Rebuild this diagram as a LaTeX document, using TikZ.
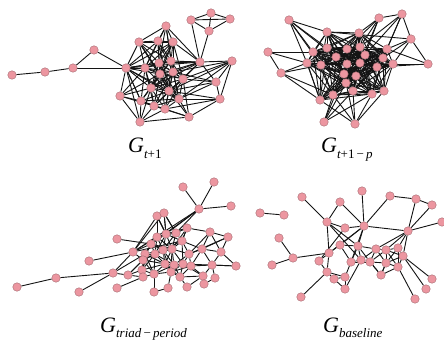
\documentclass[tikz,border=0pt]{standalone}
\usepackage{fontspec}
\setmainfont{Liberation Serif}
\pgfdeclarelayer{bg}
\pgfsetlayers{bg,main}
\definecolor{vfill}{RGB}{236,150,160}
\definecolor{vline}{RGB}{165,105,112}
\definecolor{ecol}{RGB}{20,20,20}
\tikzset{
  v/.style={circle,fill=vfill,draw=vline,line width=0.4pt,minimum size=8.5pt,inner sep=0pt},
  edge/.style={draw=ecol,line width=0.9pt},
  glabel/.style={anchor=base west,inner sep=0pt}
}
\newcommand\nearlinks[2]{%
  \foreach \na/\xa/\ya [count=\i] in #1 {%
    \foreach \nb/\xb/\yb [count=\j] in #1 {%
      \ifnum\i<\j
        \pgfmathsetmacro\dd{veclen(\xa-\xb,\ya-\yb)}%
        \ifdim\dd pt<#2pt \draw[edge] (\na) -- (\nb); \fi
      \fi}}}
\newcommand\putnodes[1]{\foreach \n/\x/\y in #1 {\node[v] (\n) at (\x,\y) {};}}
\newcommand\links[1]{\foreach \a/\b in {#1} {\draw[edge] (\a) -- (\b);}}
\newcommand\sub[1]{\raisebox{-5.5pt}{\fontsize{13}{14}\selectfont #1}}

\def\QoneAll{p1/12/75, p2/45/72, p3/73/68, p4/94/50, p5/126/68, p6/166/26, p7/191/20, p8/211/13, p9/230/19, p10/209/31, p11/139/42, p12/158/41, p13/173/42, p14/145/68, p15/159/63, p16/171/61, p17/200/62, p18/232/61, p19/160/74, p20/173/72, p21/183/79, p22/216/82, p23/151/88, p24/169/91, p25/120/96, p26/141/101, p27/154/106, p28/165/109, p29/179/99, p30/220/99, p31/140/122, p32/189/117}
\def\QoneCore{p5/126/68, p6/166/26, p11/139/42, p12/158/41, p13/173/42, p14/145/68, p15/159/63, p16/171/61, p17/200/62, p18/232/61, p19/160/74, p20/173/72, p21/183/79, p22/216/82, p23/151/88, p24/169/91, p25/120/96, p26/141/101, p27/154/106, p28/165/109, p29/179/99, p30/220/99, p31/140/122, p32/189/117}

\def\QtwoAll{a1/289/20, a2/327/32, a3/359/33, a4/379/18, a5/402/14, a6/411/39, a7/268/52, a8/281/73, a9/313/52, a10/327/48, a11/347/49, a12/360/47, a13/387/49, a14/307/63, a15/321/65, a16/336/57, a17/347/64, a18/360/63, a19/365/55, a20/383/58, a21/393/64, a22/428/64, a23/377/67, a24/344/74, a25/356/76, a26/346/83, a27/353/91, a28/372/94, a29/384/91, a30/333/95, a31/320/100, a32/324/122, a33/355/124}
\def\QtwoCore{a2/327/32, a3/359/33, a9/313/52, a10/327/48, a11/347/49, a12/360/47, a13/387/49, a14/307/63, a15/321/65, a16/336/57, a17/347/64, a18/360/63, a19/365/55, a20/383/58, a21/393/64, a23/377/67, a24/344/74, a25/356/76, a26/346/83, a27/353/91, a28/372/94, a29/384/91, a30/333/95, a31/320/100}

\def\QthreeAll{t1/17/287, t2/56/278, t3/89/261, t4/79/292, t5/113/273, t6/117/239, t7/117/288, t8/133/252, t9/183/187, t10/214/182, t11/199/209, t12/231/206, t13/157/216, t14/164/213, t15/187/228, t16/210/232, t17/228/237, t18/157/237, t19/166/234, t20/176/233, t21/151/244, t22/182/241, t23/145/254, t24/155/254, t25/163/250, t26/172/249, t27/189/254, t28/202/249, t29/221/252, t30/143/260, t31/165/264, t32/174/265, t33/183/264, t34/191/266, t35/212/265, t36/236/266, t37/128/275, t38/142/270, t39/143/277, t40/154/274, t41/171/272, t42/180/277, t44/203/276, t45/215/278, t46/154/292, t47/168/288, t48/187/287, t49/204/284}
\def\QthreeCore{t13/157/216, t14/164/213, t15/187/228, t16/210/232, t17/228/237, t18/157/237, t19/166/234, t20/176/233, t21/151/244, t22/182/241, t23/145/254, t24/155/254, t25/163/250, t26/172/249, t27/189/254, t28/202/249, t29/221/252, t30/143/260, t31/165/264, t32/174/265, t33/183/264, t34/191/266, t35/212/265, t37/128/275, t38/142/270, t39/143/277, t40/154/274, t41/171/272, t42/180/277, t44/203/276}

\def\QfourAll{b1/260/213, b2/284/215, b3/302/197, b4/327/222, b5/340/202, b6/362/191, b7/390/196, b8/416/199, b9/432/205, b10/442/222, b11/364/226, b12/345/228, b13/408/231, b14/279/238, b15/293/258, b16/272/265, b17/319/261, b18/329/253, b19/340/245, b20/358/246, b21/376/249, b22/386/250, b23/398/248, b24/403/256, b25/398/267, b26/386/263, b27/370/262, b28/361/260, b29/351/262, b30/327/272, b31/334/279, b32/345/277, b33/345/289, b34/381/275, b35/301/297, b36/432/279, b37/426/289, b38/415/299}
\def\QfourCore{b17/319/261, b18/329/253, b19/340/245, b20/358/246, b21/376/249, b22/386/250, b23/398/248, b24/403/256, b25/398/267, b26/386/263, b27/370/262, b28/361/260, b29/351/262, b30/327/272, b31/334/279, b32/345/277, b34/381/275}

\begin{document}
\begin{tikzpicture}[x=1pt,y=-1pt]
\useasboundingbox (0,0) rectangle (444,347);
\putnodes{\QoneAll}
\putnodes{\QtwoAll}
\putnodes{\QthreeAll}
\putnodes{\QfourAll}
\begin{pgfonlayer}{bg}
\fill[white] (0,0) rectangle (444,347);
% G_{t+1}
\nearlinks{\QoneCore}{42}
\links{p1/p2, p2/p3, p3/p4, p4/p5, p3/p5, p7/p8, p8/p9, p7/p9, p7/p10, p8/p10, p9/p10, p7/p17, p10/p17, p5/p16, p5/p17, p5/p13, p6/p17, p6/p20, p11/p19, p17/p23, p17/p24, p18/p29, p18/p24, p30/p28, p30/p24, p31/p32, p5/p31, p5/p26, p11/p24, p12/p24, p13/p23, p25/p19, p6/p14, p18/p21, p22/p24, p5/p29, p5/p24, p18/p20, p22/p20}
% G_{t+1-p}
\nearlinks{\QtwoCore}{55}
\links{a7/a9, a7/a8, a7/a14, a8/a14, a8/a15, a8/a31, a8/a30, a1/a2, a1/a9, a1/a10, a1/a14, a1/a15, a1/a16, a4/a5, a4/a3, a4/a12, a4/a19, a4/a11, a4/a18, a5/a6, a5/a13, a5/a20, a5/a12, a5/a19, a6/a22, a6/a21, a6/a13, a6/a2, a6/a20, a22/a21, a22/a23, a22/a13, a32/a30, a32/a26, a32/a28, a32/a27, a32/a24, a33/a31, a33/a30, a33/a28, a33/a27, a33/a29, a33/a26, a31/a14}
% G_{triad-period}
\nearlinks{\QthreeCore}{24}
\links{t1/t2, t2/t5, t3/t8, t4/t5, t5/t8, t5/t37, t5/t23, t6/t21, t7/t39, t8/t13, t8/t14, t8/t18, t8/t11, t8/t22, t9/t11, t10/t11, t12/t11, t11/t19, t11/t21, t11/t20, t13/t18, t14/t19, t15/t22, t17/t28, t17/t27, t16/t27, t36/t35, t36/t29, t36/t33, t45/t49, t45/t35, t46/t40, t46/t47, t47/t41, t48/t42, t48/t44, t49/t44, t8/t30, t8/t21, t14/t20, t13/t19, t15/t26, t37/t30}
% G_{baseline}
\nearlinks{\QfourCore}{22}
\links{b1/b2, b3/b4, b4/b5, b4/b18, b4/b12, b5/b11, b6/b11, b7/b11, b7/b8, b8/b9, b8/b13, b9/b13, b10/b13, b11/b13, b11/b12, b11/b19, b11/b18, b11/b20, b11/b29, b13/b23, b13/b24, b13/b22, b13/b21, b14/b15, b16/b15, b15/b18, b35/b30, b24/b36, b24/b37, b25/b38, b34/b27, b34/b26, b33/b32, b33/b31, b33/b28, b4/b20, b4/b28, b12/b17}
\end{pgfonlayer}
% labels
\node[glabel] (l1) at (128,153) {\fontsize{22}{24}\selectfont\itshape G\sub{t\upshape+1}};
\node[glabel] (l2) at (321,153) {\fontsize{22}{24}\selectfont\itshape G\sub{t\upshape+1\,−\,\itshape p}};
\node[glabel] (l3) at (100,332) {\fontsize{22}{24}\selectfont\itshape G\sub{triad\upshape\,−\,\itshape period}};
\node[glabel] (l4) at (323,332) {\fontsize{22}{24}\selectfont\itshape G\sub{baseline}};
\end{tikzpicture}
\end{document}
